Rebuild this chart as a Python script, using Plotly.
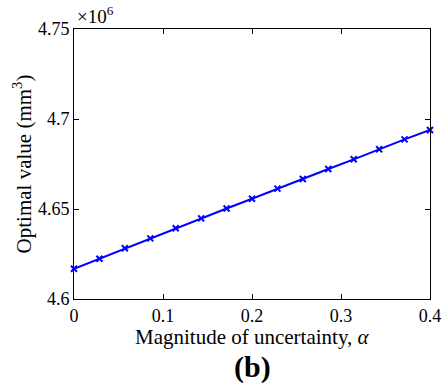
import plotly.graph_objects as go

# Uncertainty magnitude alpha and corresponding optimal value (x1e6 mm^3)
alpha = [0.0, 0.02857, 0.05714, 0.08571, 0.11429, 0.14286, 0.17143, 0.2,
         0.22857, 0.25714, 0.28571, 0.31429, 0.34286, 0.37143, 0.4]
optimal_value = [4.6168, 4.6224, 4.6282, 4.6337, 4.6393, 4.6448, 4.6503, 4.6557,
                 4.6613, 4.6667, 4.6722, 4.6776, 4.6832, 4.6887, 4.6939]

x_ticks = [0, 0.1, 0.2, 0.3, 0.4]
x_tick_labels = ["0", "0.1", "0.2", "0.3", "0.4"]
y_ticks = [4.6, 4.65, 4.7, 4.75]
y_tick_labels = ["4.6", "4.65", "4.7", "4.75"]

FONT = "Times New Roman, Liberation Serif, serif"

fig = go.Figure()
fig.add_trace(go.Scatter(
    x=alpha, y=optimal_value, mode="lines+markers",
    line=dict(color="#0000ff", width=2),
    marker=dict(symbol="x-thin", size=6, color="#0000ff",
                line=dict(color="#0000ff", width=2)),
    showlegend=False,
    cliponaxis=False,
))

axis_common = dict(
    showgrid=False, zeroline=False, showline=True, linecolor="black",
    linewidth=1, mirror="ticks", ticks="inside", ticklen=5,
    tickcolor="black", tickwidth=1, automargin=False,
    tickfont=dict(family=FONT, size=18, color="black"),
)

fig.update_layout(
    width=444, height=388,
    margin=dict(l=74, r=14, t=29, b=89, autoexpand=False),
    paper_bgcolor="white", plot_bgcolor="white",
    font=dict(family=FONT, color="black"),
    xaxis=dict(range=[0, 0.4], tickvals=x_ticks, ticktext=x_tick_labels, **axis_common),
    yaxis=dict(range=[4.6, 4.75], tickvals=y_ticks, ticktext=y_tick_labels, **axis_common),
    annotations=[
        dict(text="Magnitude of uncertainty, <i>α</i>", xref="paper", yref="paper",
             x=0.5, y=-0.14, xanchor="center", yanchor="middle", showarrow=False,
             font=dict(family=FONT, size=21, color="black")),
        dict(text="Optimal value (mm<sup>3</sup>)", xref="paper", yref="paper",
             x=-0.145, y=0.5, xanchor="center", yanchor="middle", showarrow=False,
             textangle=-90, font=dict(family=FONT, size=21, color="black")),
        dict(text="×10<sup>6</sup>", xref="paper", yref="paper",
             x=0.003, y=1.0, xanchor="left", yanchor="bottom", showarrow=False,
             font=dict(family=FONT, size=19, color="black")),
        dict(text="<b>(b)</b>", xref="paper", yref="paper",
             x=0.5, y=-0.25, xanchor="center", yanchor="middle", showarrow=False,
             font=dict(family=FONT, size=30, color="black")),
    ],
)

fig.write_html("out.html")
